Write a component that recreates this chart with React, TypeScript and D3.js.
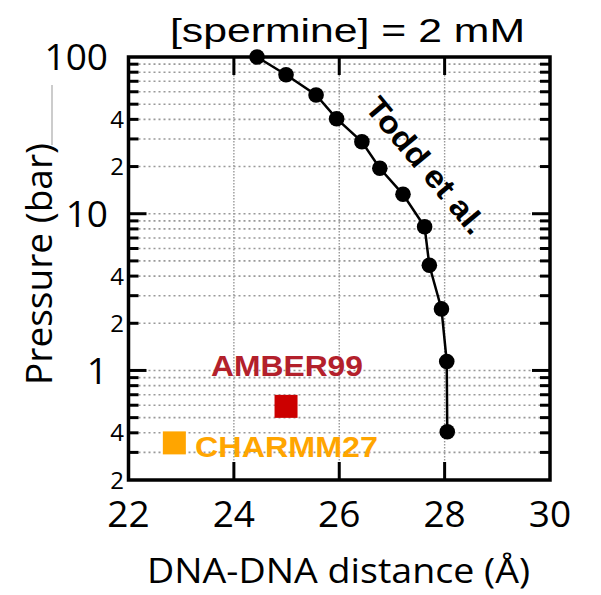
import { scaleLinear, scaleLog, line } from "d3";

// Todd et al. measurements
const toddDistance = [24.44, 24.99, 25.56, 25.95, 26.43, 26.77, 27.21, 27.62, 27.71, 27.94, 28.04, 28.05];
const toddPressure = [100, 77.1, 57.2, 40.4, 28.8, 19.5, 13.3, 8.26, 4.69, 2.47, 1.14, 0.406];

// simulation points
const simNames = ["AMBER99", "CHARMM27"];
const simDistance = [24.99, 22.87];
const simPressure = [0.59, 0.345];
const simColors = ["#cc0000", "#ffa500"];
const simLabelColors = ["#b3202b", "#ffa500"];

const xTicks = [22, 24, 26, 28, 30];
const yTickValues = [0.2, 0.4, 1, 2, 4, 10, 20, 40, 100];
const yTickLabels = ["2", "4", "1", "2", "4", "10", "2", "4", "100"];
const yMajor = [1, 10, 100];

const width = 601;
const height = 595;
const margin = { top: 57, right: 51, bottom: 115, left: 128.5 };
const innerWidth = width - margin.left - margin.right;
const innerHeight = height - margin.top - margin.bottom;

const tickFont = "'Open Sans', 'DejaVu Sans', sans-serif";
const boldFont = "'Liberation Sans', Arial, sans-serif";

const App = () => {
  const xScale = scaleLinear().domain([22, 30]).range([0, innerWidth]);
  const yScale = scaleLog().domain([0.2, 100]).range([innerHeight, 0]);

  const gridValues = yScale.ticks().filter((v) => v > 0.2 && v < 100);
  const points = toddDistance.map((d, i) => [d, toddPressure[i]] as [number, number]);
  const path = line<[number, number]>()
    .x((d) => xScale(d[0]))
    .y((d) => yScale(d[1]))(points);

  const sq = 23;

  return (
    <svg width={width} height={height} style={{ position: "absolute", left: 0, top: 0, background: "#fff" }}>
      <text x={347.5} y={42} textAnchor="middle" fontFamily={boldFont} fontSize={33} textLength={355} lengthAdjust="spacingAndGlyphs">
        [spermine] = 2 mM
      </text>

      <g transform={`translate(${margin.left},${margin.top})`}>
        {/* horizontal dotted grid */}
        {gridValues.map((v) => (
          <line key={"h" + v} x1={0} x2={innerWidth} y1={yScale(v)} y2={yScale(v)} stroke="#999" strokeWidth={1.6} strokeDasharray="2,3" />
        ))}
        {/* vertical dotted grid */}
        {xTicks.slice(1, -1).map((v) => (
          <line key={"v" + v} x1={xScale(v)} x2={xScale(v)} y1={0} y2={innerHeight} stroke="#999" strokeWidth={1.4} strokeDasharray="1.5,1.5" />
        ))}

        {/* y ticks, left and right, inward */}
        {gridValues.map((v) => {
          const len = yMajor.includes(v) ? 18 : 10;
          return (
            <g key={"yt" + v}>
              <line x1={0} x2={len} y1={yScale(v)} y2={yScale(v)} stroke="black" strokeWidth={3} />
              <line x1={innerWidth} x2={innerWidth - len} y1={yScale(v)} y2={yScale(v)} stroke="black" strokeWidth={3} />
            </g>
          );
        })}
        {/* x ticks, top and bottom, inward */}
        {xTicks.slice(1, -1).map((v) => (
          <g key={"xt" + v}>
            <line x1={xScale(v)} x2={xScale(v)} y1={0} y2={18} stroke="black" strokeWidth={3} />
            <line x1={xScale(v)} x2={xScale(v)} y1={innerHeight} y2={innerHeight - 18} stroke="black" strokeWidth={3} />
          </g>
        ))}

        <rect x={0} y={0} width={innerWidth} height={innerHeight} fill="none" stroke="black" strokeWidth={3.5} />

        {/* y tick labels */}
        {yTickValues.map((v, i) => {
          const big = yMajor.includes(v);
          return (
            <text
              key={"yl" + i}
              x={big ? -20.5 : -4.5}
              y={yScale(v)}
              dy="0.36em"
              textAnchor="end"
              fontFamily={tickFont}
              fontSize={big ? 37 : 24}
            >
              {yTickLabels[i]}
            </text>
          );
        })}
        {/* x tick labels */}
        {xTicks.map((v) => (
          <text key={"xl" + v} x={xScale(v)} y={innerHeight + 47} textAnchor="middle" fontFamily={tickFont} fontSize={37}>
            {v}
          </text>
        ))}

        {/* Todd et al. */}
        <path d={path ?? ""} fill="none" stroke="black" strokeWidth={2.5} />
        {points.map((d, i) => (
          <circle key={"p" + i} cx={xScale(d[0])} cy={yScale(d[1])} r={7.8} fill="black" />
        ))}

        {/* simulation squares */}
        {simNames.map((n, i) => (
          <rect
            key={n}
            x={xScale(simDistance[i]) - sq / 2}
            y={yScale(simPressure[i]) - sq / 2}
            width={sq}
            height={sq}
            fill={simColors[i]}
          />
        ))}
      </g>

      <text x={287} y={376} textAnchor="middle" fontFamily={boldFont} fontWeight="bold" fontSize={29} fill={simLabelColors[0]} textLength={152} lengthAdjust="spacingAndGlyphs">
        {simNames[0]}
      </text>
      <text x={195} y={457} fontFamily={boldFont} fontWeight="bold" fontSize={29} fill={simLabelColors[1]} textLength={183} lengthAdjust="spacingAndGlyphs">
        {simNames[1]}
      </text>
      <text
        transform="translate(417.7,172.3) rotate(50)"
        textAnchor="middle"
        fontFamily={boldFont}
        fontWeight="bold"
        fontSize={31}
        textLength={168}
        lengthAdjust="spacingAndGlyphs"
      >
        Todd et al.
      </text>

      {/* axis titles */}
      <text x={338.5} y={583} textAnchor="middle" fontFamily={tickFont} fontSize={35} textLength={383} lengthAdjust="spacingAndGlyphs">
        DNA-DNA distance (Å)
      </text>
      <text transform="translate(52,264) rotate(-90)" textAnchor="middle" fontFamily={tickFont} fontSize={37} textLength={242} lengthAdjust="spacingAndGlyphs">
        Pressure (bar)
      </text>
      <line x1={52} x2={52} y1={85} y2={145} stroke="#999" strokeWidth={1} />
    </svg>
  );
};

export default App;
